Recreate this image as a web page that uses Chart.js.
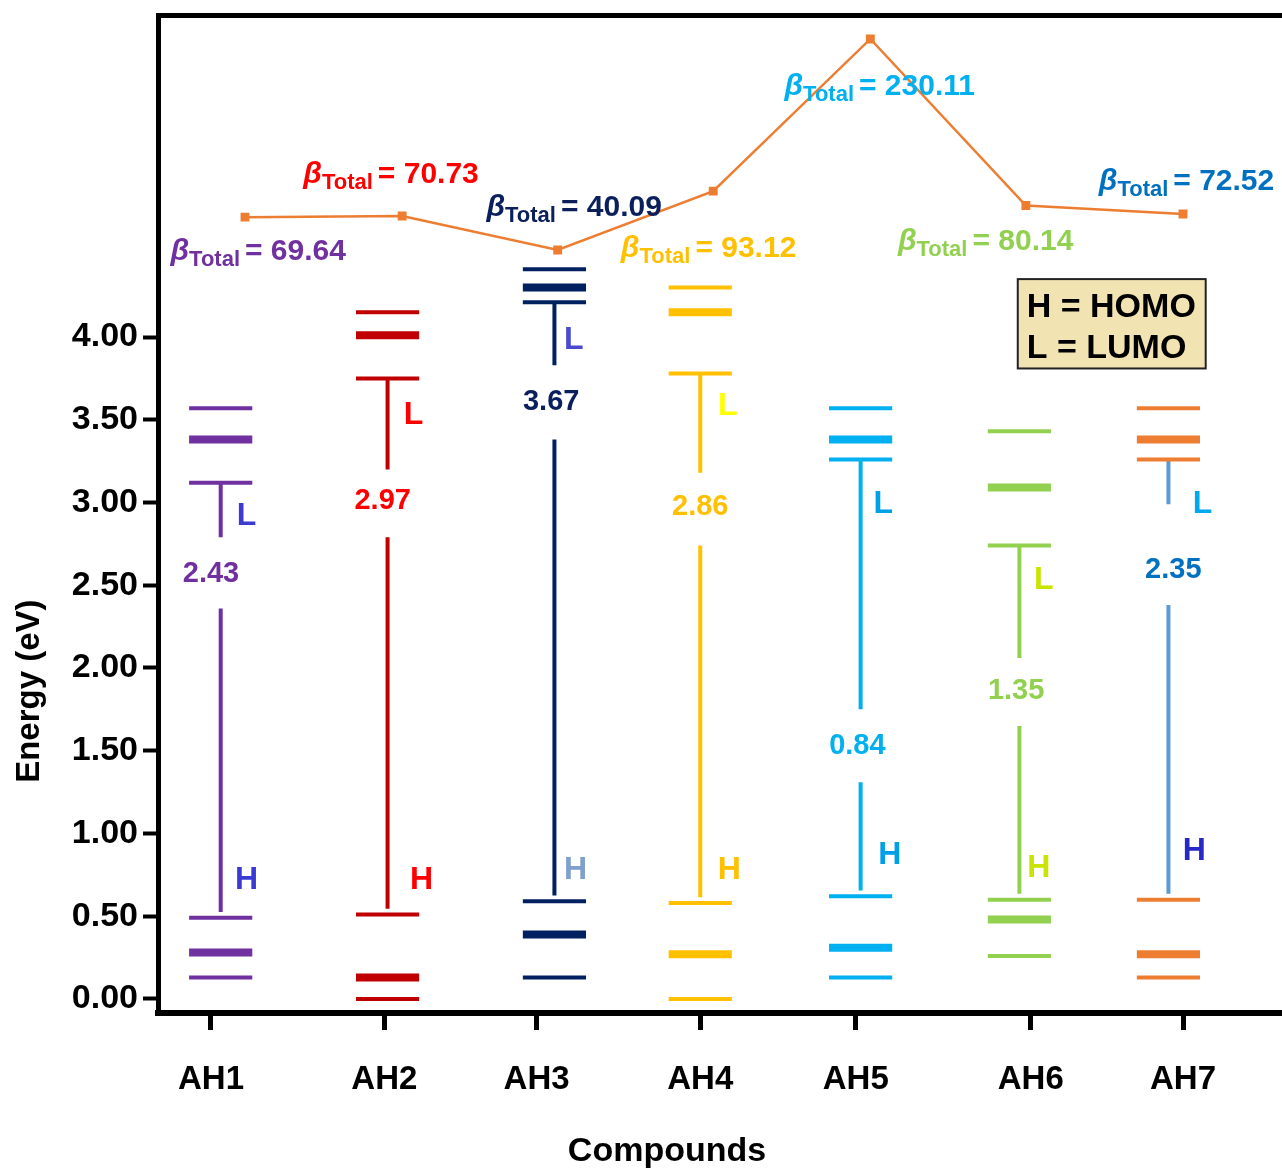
<!DOCTYPE html>
<html>
<head>
<meta charset="utf-8">
<script src="https://cdn.jsdelivr.net/npm/chart.js@4.4.0/dist/chart.umd.min.js"></script>
<style>
  body { margin: 0; background: #fff; }
</style>
</head>
<body>
<canvas id="myChart" width="1282" height="1172"></canvas>
<script>
// ---- data ----
var compounds = ['AH1', 'AH2', 'AH3', 'AH4', 'AH5', 'AH6', 'AH7'];
var tickPos = [1, 2.07, 3.01, 4.02, 4.98, 6.06, 7.0];      // x ticks (axis units)
var levelPos = [1.06, 2.09, 3.12, 4.02, 5.01, 5.99, 6.91]; // centre of each level stack

// orbital energies (eV)
var lumoPlus2 = [3.57, 4.15, 4.41, 4.30, 3.57, 3.43, 3.57];
var lumoPlus1 = [3.38, 4.01, 4.30, 4.15, 3.38, 3.09, 3.38];
var lumo      = [3.12, 3.75, 4.21, 3.78, 3.26, 2.74, 3.26];
var homo      = [0.49, 0.51, 0.59, 0.58, 0.62, 0.60, 0.60];
var homoMinus1 = [0.28, 0.13, 0.39, 0.27, 0.31, 0.48, 0.27];
var homoMinus2 = [0.13, 0.00, 0.13, 0.00, 0.13, 0.26, 0.13];

// band gaps shown on the arrows
var gapValues = [2.43, 2.97, 3.67, 2.86, 0.84, 1.35, 2.35];

// first hyperpolarizability
var betaTotal = [69.64, 70.73, 40.09, 93.12, 230.11, 80.14, 72.52];
var betaPos = [1.21, 2.18, 3.14, 4.10, 5.07, 6.03, 7.0];

var yTicks = [0, 0.5, 1, 1.5, 2, 2.5, 3, 3.5, 4];

// ---- layout / styling ----
var levelColors = ['#7030A0', '#C00000', '#002060', '#FFC000', '#00B0F0', '#92D050', '#ED7D31'];
var gapLineColors = ['#7030A0', '#C00000', '#002060', '#FFC000', '#00B0F0', '#92D050', '#5B9BD5'];
var textColors = ['#7030A0', '#FF0000', '#0A1F5C', '#FFC000', '#00B0F0', '#92D050', '#0070C0'];
var lColors = ['#3B3BD4', '#FF0000', '#4A4AD0', '#FFFF00', '#00A0E8', '#C8E400', '#00A8F0'];
var hColors = ['#3B3BD4', '#FF0000', '#7F9FCF', '#FFC000', '#00A0E8', '#C8E400', '#2828C8'];

var gapBreakTop = [2.79, 3.20, 3.83, 3.18, 1.75, 2.06, 2.99];
var gapBreakBottom = [2.36, 2.79, 3.38, 2.74, 1.31, 1.65, 2.38];
var gapLabelX = [1.0, 2.06, 3.10, 4.02, 4.99, 5.97, 6.94];
var gapLabelY = [2.57, 3.01, 3.61, 2.97, 1.53, 1.86, 2.59];
var lLabelX = [1.22, 2.25, 3.24, 4.19, 5.15, 6.14, 7.12];
var lLabelY = [2.92, 3.53, 3.98, 3.58, 2.99, 2.53, 2.99];
var hLabelX = [1.22, 2.30, 3.25, 4.20, 5.19, 6.11, 7.07];
var hLabelY = [0.72, 0.72, 0.78, 0.78, 0.87, 0.79, 0.89];
var betaLabelX = [0.75, 1.57, 2.70, 3.53, 4.54, 5.24, 6.48];
var betaLabelY = [31.1, 100.4, 70.7, 33.8, 179.7, 40.1, 94.1];

var FONT = '"Liberation Sans", Arial, sans-serif';
var HALF = 0.195;

var datasets = [];
var levelSets = [[lumoPlus2, 4], [lumoPlus1, 8], [lumo, 4], [homo, 4], [homoMinus1, 8], [homoMinus2, 4]];
compounds.forEach(function (c, i) {
    levelSets.forEach(function (ls) {
        datasets.push({
            data: [{x: levelPos[i] - HALF, y: ls[0][i]}, {x: levelPos[i] + HALF, y: ls[0][i]}],
            borderColor: levelColors[i], borderWidth: ls[1], pointRadius: 0,
            borderCapStyle: 'butt', yAxisID: 'y'
        });
    });
    datasets.push({
        data: [{x: levelPos[i], y: lumo[i]}, {x: levelPos[i], y: gapBreakTop[i]}],
        borderColor: gapLineColors[i], borderWidth: 4, pointRadius: 0, borderCapStyle: 'butt', yAxisID: 'y'
    });
    datasets.push({
        data: [{x: levelPos[i], y: gapBreakBottom[i]}, {x: levelPos[i], y: homo[i] + 0.035}],
        borderColor: gapLineColors[i], borderWidth: 4, pointRadius: 0, borderCapStyle: 'butt', yAxisID: 'y'
    });
});
datasets.push({
    data: betaPos.map(function (x, i) { return {x: x, y: betaTotal[i]}; }),
    borderColor: '#ED7D31', borderWidth: 2.5,
    pointStyle: 'rect', pointRadius: 4.5,
    pointBackgroundColor: '#ED7D31', pointBorderColor: '#ED7D31',
    yAxisID: 'yb'
});

var textPlugin = {
    id: 'textPlugin',
    afterDatasetsDraw: function (chart) {
        var ctx = chart.ctx, xs = chart.scales.x, ys = chart.scales.y, yb = chart.scales.yb;
        ctx.save();
        ctx.textAlign = 'center';
        ctx.textBaseline = 'middle';

        ctx.font = 'bold 29px ' + FONT;
        gapValues.forEach(function (v, i) {
            ctx.fillStyle = textColors[i];
            ctx.fillText(v.toFixed(2), xs.getPixelForValue(gapLabelX[i]), ys.getPixelForValue(gapLabelY[i]));
        });

        ctx.font = 'bold 32px ' + FONT;
        compounds.forEach(function (c, i) {
            ctx.fillStyle = lColors[i];
            ctx.fillText('L', xs.getPixelForValue(lLabelX[i]), ys.getPixelForValue(lLabelY[i]));
            ctx.fillStyle = hColors[i];
            ctx.fillText('H', xs.getPixelForValue(hLabelX[i]), ys.getPixelForValue(hLabelY[i]));
        });

        // beta labels
        ctx.textAlign = 'left';
        ctx.textBaseline = 'alphabetic';
        betaTotal.forEach(function (b, i) {
            var x = xs.getPixelForValue(betaLabelX[i]);
            var y = yb.getPixelForValue(betaLabelY[i]);
            ctx.fillStyle = textColors[i];
            ctx.font = 'italic bold 30px ' + FONT;
            ctx.fillText('β', x, y);
            x += ctx.measureText('β').width;
            ctx.font = 'bold 22px ' + FONT;
            ctx.fillText('Total', x, y + 6);
            x += ctx.measureText('Total').width + 5;
            ctx.font = 'bold 30px ' + FONT;
            ctx.fillText('= ' + b.toFixed(2), x, y);
        });

        // H/L key box
        var bx1 = xs.getPixelForValue(5.98), bx2 = xs.getPixelForValue(7.14);
        var by1 = ys.getPixelForValue(4.35), by2 = ys.getPixelForValue(3.81);
        ctx.fillStyle = '#F2E3B3';
        ctx.fillRect(bx1, by1, bx2 - bx1, by2 - by1);
        ctx.strokeStyle = '#222';
        ctx.lineWidth = 2;
        ctx.strokeRect(bx1, by1, bx2 - bx1, by2 - by1);
        ctx.fillStyle = '#000';
        ctx.font = 'bold 34px ' + FONT;
        ctx.textBaseline = 'middle';
        ctx.fillText('H = HOMO', bx1 + 9, by1 + 29);
        ctx.fillText('L = LUMO', bx1 + 9, by1 + 70);

        // axis titles
        ctx.textAlign = 'center';
        ctx.font = 'bold 34px ' + FONT;
        ctx.fillText('Compounds', xs.getPixelForValue(3.815), chart.height - 20);
        ctx.translate(30, ys.getPixelForValue(1.86));
        ctx.rotate(-Math.PI / 2);
        ctx.font = 'bold 33px ' + FONT;
        ctx.fillText('Energy (eV)', 0, 0);
        ctx.restore();
    }
};

var ctx = document.getElementById('myChart').getContext('2d');
var myChart = new Chart(ctx, {
    type: 'line',
    data: { datasets: datasets },
    plugins: [textPlugin],
    options: {
        responsive: false,
        animation: false,
        layout: { padding: 0, autoPadding: false },
        plugins: {
            legend: { display: false },
            tooltip: { enabled: false }
        },
        scales: {
            x: {
                type: 'linear', position: 'bottom', min: 0.673, max: 7.611,
                afterBuildTicks: function (s) { s.ticks = tickPos.map(function (v) { return {value: v}; }); },
                afterFit: function (s) { s.height = 159; s.paddingLeft = 0; s.paddingRight = 0; },
                grid: { drawOnChartArea: false, drawTicks: true, tickLength: 17, tickWidth: 5, tickColor: '#000' },
                border: { display: true, width: 6, color: '#000' },
                ticks: {
                    autoSkip: false, maxRotation: 0, padding: 30, color: '#000',
                    font: { family: FONT, size: 33, weight: 'bold' },
                    callback: function (v, i) { return compounds[i]; }
                }
            },
            xTop: {
                type: 'linear', position: 'top', min: 0.673, max: 7.611, display: true,
                afterFit: function (s) { s.height = 15; s.paddingLeft = 0; s.paddingRight = 0; },
                grid: { display: false, drawTicks: false },
                ticks: { display: false },
                border: { display: true, width: 5, color: '#000' }
            },
            y: {
                type: 'linear', position: 'left', min: -0.085, max: 5.946,
                afterBuildTicks: function (s) { s.ticks = yTicks.map(function (v) { return {value: v}; }); },
                afterFit: function (s) { s.width = 158; s.paddingTop = 0; s.paddingBottom = 0; },
                grid: { drawOnChartArea: false, drawTicks: true, tickLength: 15, tickWidth: 4, tickColor: '#000' },
                border: { display: true, width: 5, color: '#000' },
                ticks: {
                    padding: 5, color: '#000',
                    font: { family: FONT, size: 34, weight: 'bold' },
                    callback: function (v) { return v.toFixed(2); }
                }
            },
            yb: {
                type: 'linear', display: false, min: -647, max: 251.7
            }
        }
    }
});
</script>
</body>
</html>
